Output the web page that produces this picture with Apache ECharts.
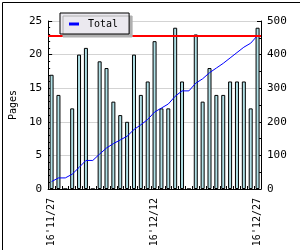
<!DOCTYPE html>
<html>
<head>
<meta charset="utf-8">
<script src="https://cdn.jsdelivr.net/npm/echarts@6/dist/echarts.min.js"></script>
<style>
html,body{margin:0;padding:0;background:#fff;}
#c{width:300px;height:250px;}
</style>
</head>
<body>
<div id="c"></div>
<script>
var categories = ["16'11/27","16'11/28","16'11/29","16'11/30","16'12/01","16'12/02","16'12/03","16'12/04","16'12/05","16'12/06","16'12/07","16'12/08","16'12/09","16'12/10","16'12/11","16'12/12","16'12/13","16'12/14","16'12/15","16'12/16","16'12/17","16'12/18","16'12/19","16'12/20","16'12/21","16'12/22","16'12/23","16'12/24","16'12/25","16'12/26","16'12/27"];
var pages = [17,14,0,12,20,21,0,19,18,13,11,10,20,14,16,22,12,12,24,16,0,23,13,18,14,14,16,16,16,12,24];
var total = [22,33,33,44,64,85,85,104,122,135,146,157,177,191,207,229,241,253,276,292,292,315,328,346,360,374,390,406,422,434,457];
var totalLine = 457;
var leftTicks = [0,25,5];
var rightTicks = [0,500,100];

var FONT = 'DejaVu Sans Mono';
var chart = echarts.init(document.getElementById('c'), null, {renderer:'canvas'});
chart.setOption({
  animation: false,
  backgroundColor: '#fff',
  textStyle: {fontFamily: FONT},
  grid: {left: 41, right: 39, top: 21, height: 168, containLabel: false},
  legend: {
    data: [{name: 'Total', icon: 'rect'}],
    left: 60, top: 13,
    itemWidth: 10, itemHeight: 3,
    padding: [6, 11, 5, 9],
    backgroundColor: '#ebe9ef',
    borderColor: '#000', borderWidth: 1,
    shadowColor: '#b0b0b0', shadowBlur: 0, shadowOffsetX: 3, shadowOffsetY: 3,
    textStyle: {fontFamily: FONT, fontSize: 10, color: '#000', padding: [0,0,0,4]},
    z: 10
  },
  xAxis: {
    type: 'category', data: categories, boundaryGap: true,
    axisLine: {lineStyle: {color: '#000', width: 1}},
    axisTick: {show: true, inside: true, length: 3, interval: 0, lineStyle: {color: '#000'}},
    axisLabel: {interval: 14, rotate: 90, margin: 9, fontFamily: FONT, fontSize: 10, color: '#000'},
    splitLine: {show: false}
  },
  yAxis: [{
    type: 'value', min: leftTicks[0], max: leftTicks[1], interval: leftTicks[2],
    name: 'Pages', nameLocation: 'middle', nameGap: 28, nameRotate: 90,
    nameTextStyle: {fontFamily: FONT, fontSize: 10, color: '#000'},
    axisLine: {show: true, lineStyle: {color: '#000'}},
    axisTick: {show: true, inside: true, length: 4, lineStyle: {color: '#000'}},
    minorTick: {show: true, splitNumber: 5, length: 2, lineStyle: {color: '#000'}},
    axisLabel: {margin: 6, fontFamily: FONT, fontSize: 11, color: '#000'},
    splitLine: {show: true, lineStyle: {color: '#d3d3d3', width: 1}}
  }, {
    type: 'value', min: rightTicks[0], max: rightTicks[1], interval: rightTicks[2],
    position: 'right',
    axisLine: {show: true, lineStyle: {color: '#000'}},
    axisTick: {show: true, inside: true, length: 4, lineStyle: {color: '#000'}},
    minorTick: {show: true, splitNumber: 2, length: 2, lineStyle: {color: '#000'}},
    axisLabel: {margin: 6, fontFamily: FONT, fontSize: 11, color: '#000'},
    splitLine: {show: false}
  }],
  series: [{
    name: 'Pages', type: 'bar', data: pages, yAxisIndex: 0,
    barWidth: 4,
    itemStyle: {color: '#b0e0e6', borderColor: '#000', borderWidth: 1},
    z: 2
  }, {
    name: 'Total', type: 'line', data: total, yAxisIndex: 1,
    showSymbol: false, symbol: 'none',
    lineStyle: {color: '#0000ff', width: 1},
    itemStyle: {color: '#0000ff'},
    markLine: {
      silent: true, symbol: ['none','none'],
      label: {show: false},
      lineStyle: {color: '#ff0000', width: 2, type: 'solid'},
      data: [{yAxis: totalLine}]
    },
    z: 3
  }],
  graphic: [{
    type: 'rect', left: 0, top: 0,
    shape: {x: 0.5, y: 0.5, width: 298, height: 248},
    style: {fill: 'none', stroke: '#000', lineWidth: 1},
    silent: true, z: 100
  }]
});
</script>
</body>
</html>
